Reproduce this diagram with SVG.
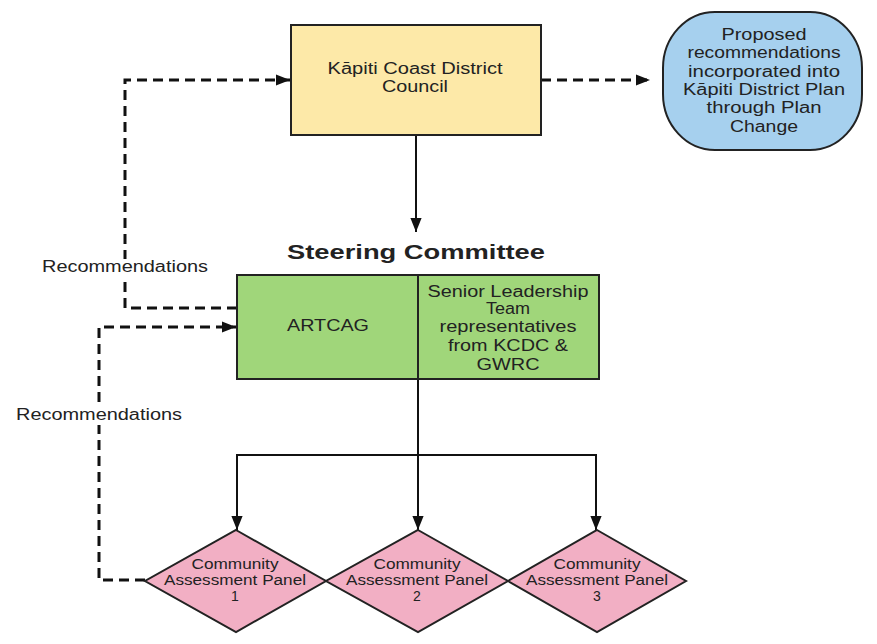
<svg xmlns="http://www.w3.org/2000/svg" width="877" height="644" viewBox="0 0 877 644">
<style>
text{font-family:"Liberation Sans",Arial,sans-serif;fill:#222;text-anchor:middle}
.box{stroke:#222;stroke-width:2}
.t{font-size:16px}
.d{font-size:14px}
.dash{fill:none;stroke:#111;stroke-width:3;stroke-dasharray:10 6}
.solid{fill:none;stroke:#111;stroke-width:2}
.lbl{font-size:16px}
</style>
<defs>
<marker id="ahb" viewBox="0 0 10 10" refX="10" refY="5" markerWidth="14" markerHeight="14" markerUnits="userSpaceOnUse" orient="auto">
<path d="M0,1 L10,5 L0,9 z" fill="#111"/>
</marker>
</defs>
<rect width="877" height="644" fill="#fff"/>
<g id="connectors">
<path class="dash" d="M541,80 H650" marker-end="url(#ahb)"/>
<path class="solid" d="M416,135 V232" marker-end="url(#ahb)"/>
<path class="dash" d="M237,308 H125 V80 H290" marker-end="url(#ahb)"/>
<path class="dash" d="M145,580 H99 V327 H236" marker-end="url(#ahb)"/>
<path class="solid" d="M418,379 V455 M237,455 H596"/>
<path class="solid" d="M237,454 V530" marker-end="url(#ahb)"/>
<path class="solid" d="M418,455 V530" marker-end="url(#ahb)"/>
<path class="solid" d="M596,454 V530" marker-end="url(#ahb)"/>
<rect x="40" y="259" width="170" height="18" fill="#fff"/>
<text class="lbl" x="125" y="272" textLength="166" lengthAdjust="spacingAndGlyphs">Recommendations</text>
<rect x="14" y="407" width="170" height="18" fill="#fff"/>
<text class="lbl" x="99" y="420" textLength="166" lengthAdjust="spacingAndGlyphs">Recommendations</text>
</g>
<g id="council">
<rect class="box" x="291" y="25" width="250" height="110" fill="#fde9a8"/>
<text class="t" x="415" y="74" textLength="175" lengthAdjust="spacingAndGlyphs">Kāpiti Coast District</text>
<text class="t" x="415" y="92" textLength="66" lengthAdjust="spacingAndGlyphs">Council</text>
</g>
<g id="plan-change">
<rect class="box" x="663" y="12" width="199" height="138" rx="52" ry="56" fill="#a6d0ee"/>
<text class="t" x="764" y="40" textLength="85" lengthAdjust="spacingAndGlyphs">Proposed</text>
<text class="t" x="764" y="58" textLength="153" lengthAdjust="spacingAndGlyphs">recommendations</text>
<text class="t" x="764" y="77" textLength="152" lengthAdjust="spacingAndGlyphs">incorporated into</text>
<text class="t" x="764" y="95" textLength="162" lengthAdjust="spacingAndGlyphs">Kāpiti District Plan</text>
<text class="t" x="764" y="113" textLength="115" lengthAdjust="spacingAndGlyphs">through Plan</text>
<text class="t" x="764" y="132" textLength="68" lengthAdjust="spacingAndGlyphs">Change</text>
</g>
<g id="steering-committee">
<text x="416" y="259" style="font-size:20px;font-weight:bold" textLength="258" lengthAdjust="spacingAndGlyphs">Steering Committee</text>
<rect class="box" x="237" y="275" width="362" height="104" fill="#a0d67a"/>
<line class="box" x1="418" y1="275" x2="418" y2="379"/>
<text class="t" x="328" y="331" textLength="82" lengthAdjust="spacingAndGlyphs">ARTCAG</text>
<text class="t" x="508" y="297" textLength="161" lengthAdjust="spacingAndGlyphs">Senior Leadership</text>
<text class="t" x="508" y="314" textLength="44" lengthAdjust="spacingAndGlyphs">Team</text>
<text class="t" x="508" y="332" textLength="137" lengthAdjust="spacingAndGlyphs">representatives</text>
<text class="t" x="508" y="351" textLength="120" lengthAdjust="spacingAndGlyphs">from KCDC &amp;</text>
<text class="t" x="508" y="370" textLength="63" lengthAdjust="spacingAndGlyphs">GWRC</text>
</g>
<g id="cap1">
<polygon class="box" points="236,530 326,581 236,632 145,581" fill="#f2afc4"/>
<text class="d" x="235" y="569" textLength="87" lengthAdjust="spacingAndGlyphs">Community</text>
<text class="d" x="235" y="585" textLength="142" lengthAdjust="spacingAndGlyphs">Assessment Panel</text>
<text class="d" x="235" y="601">1</text>
</g>
<g id="cap2">
<polygon class="box" points="418,530 508,581 418,632 326,581" fill="#f2afc4"/>
<text class="d" x="417" y="569" textLength="87" lengthAdjust="spacingAndGlyphs">Community</text>
<text class="d" x="417" y="585" textLength="142" lengthAdjust="spacingAndGlyphs">Assessment Panel</text>
<text class="d" x="417" y="601">2</text>
</g>
<g id="cap3">
<polygon class="box" points="597,530 686,581 597,632 508,581" fill="#f2afc4"/>
<text class="d" x="597" y="569" textLength="87" lengthAdjust="spacingAndGlyphs">Community</text>
<text class="d" x="597" y="585" textLength="142" lengthAdjust="spacingAndGlyphs">Assessment Panel</text>
<text class="d" x="597" y="601">3</text>
</g>
</svg>
